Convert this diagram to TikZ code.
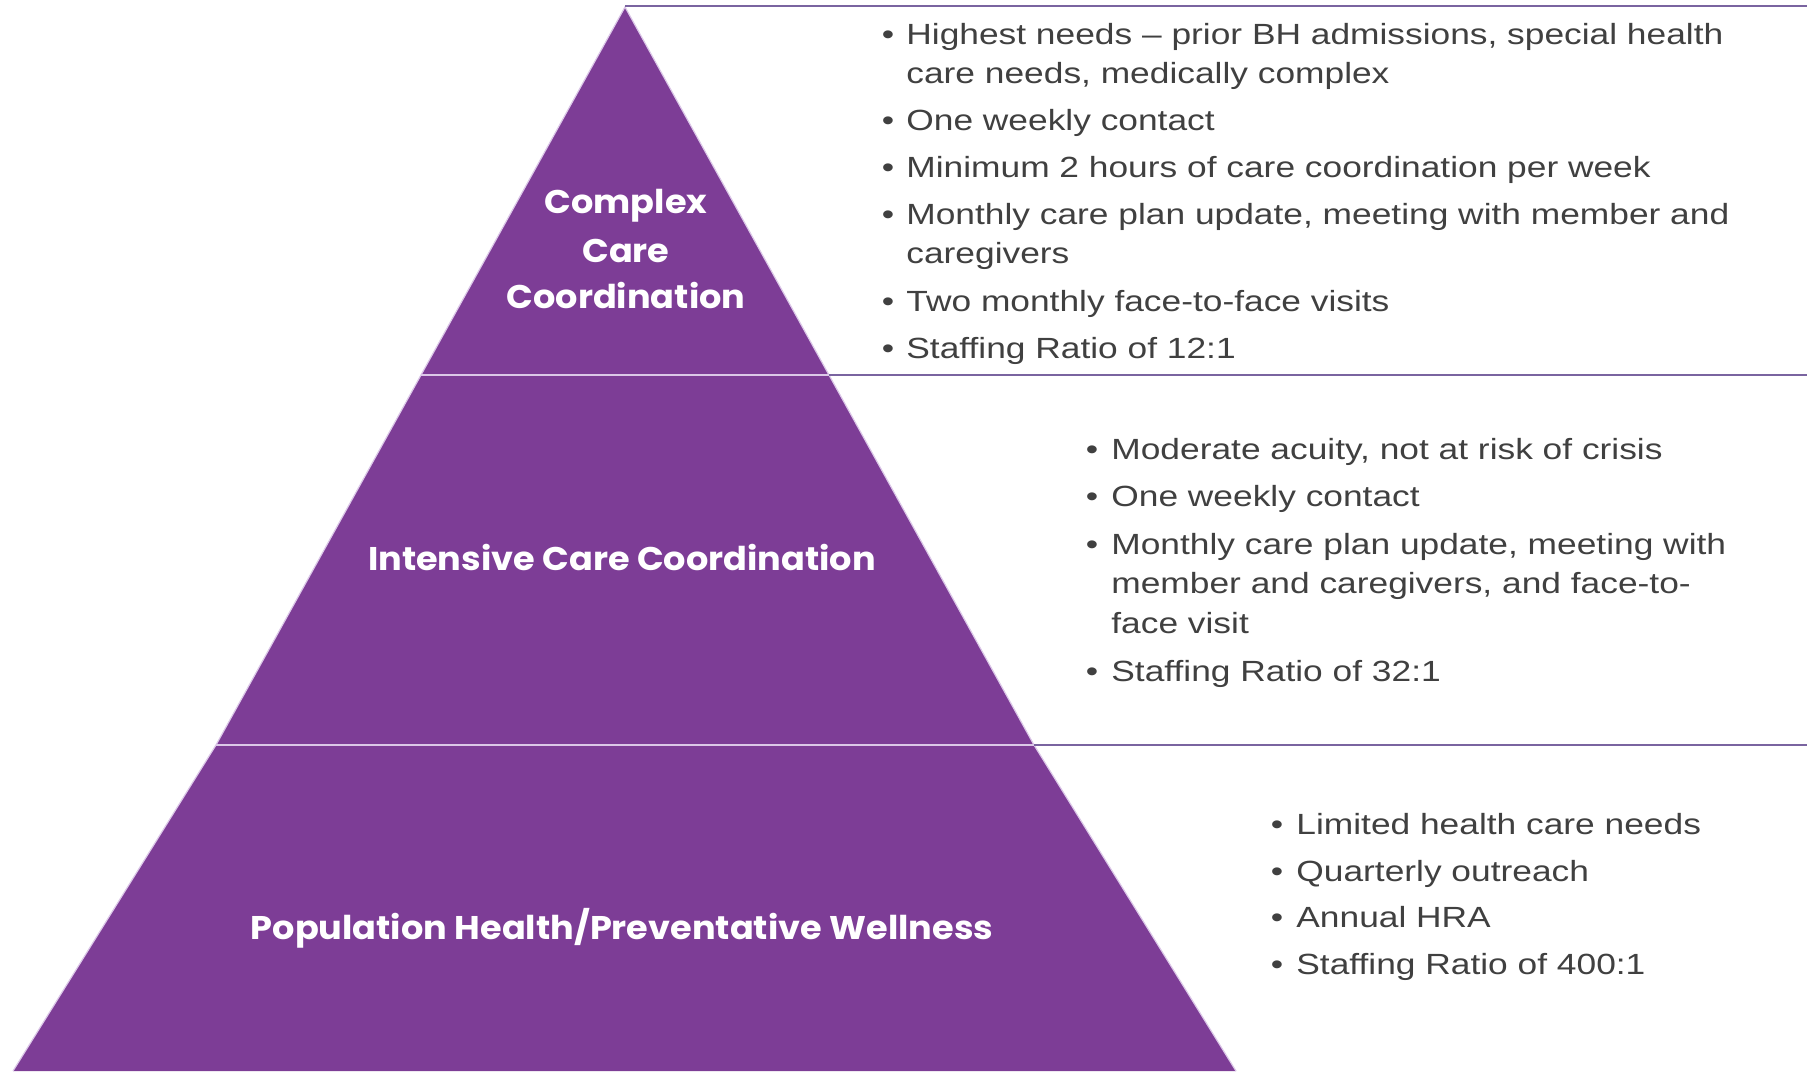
\documentclass[tikz,border=0pt]{standalone}
\usepackage{fontspec}
\setmainfont{Liberation Sans}[FakeStretch=1.21]
\newfontfamily\titlefont{Poppins}[FakeStretch=1.07]
\usetikzlibrary{calc}
\definecolor{pyr}{RGB}{125,61,150}
\definecolor{divl}{RGB}{220,200,232}
\definecolor{rline}{RGB}{122,100,160}
\definecolor{txt}{RGB}{64,64,64}
\begin{document}
\begin{tikzpicture}[x=0.5pt,y=-0.5pt,
  title/.style={text=white,font=\titlefont\bfseries\fontsize{16.4}{24.5}\selectfont,align=center,inner sep=0pt},
  item/.style={text=txt,font=\fontsize{14.6}{19.5}\selectfont,anchor=base west,inner sep=0pt,align=left},
  bul/.style={text=txt,font=\fontsize{14.6}{19.5}\selectfont,anchor=base,inner sep=0pt},
  rl/.style={draw=rline,line width=1pt},
  dl/.style={draw=divl,line width=1pt}]
\useasboundingbox (0,0) rectangle (1807,1071);
\coordinate (apex) at (625,7);
\coordinate (d1l) at (421,375);
\coordinate (d1r) at (829,375);
\coordinate (d2l) at (216,745);
\coordinate (d2r) at (1034,745);
\coordinate (bl) at (13,1071);
\coordinate (br) at (1236,1071);
\fill[pyr] (apex) -- (d1r) -- (d2r) -- (br) -- (bl) -- (d2l) -- (d1l) -- cycle;
\draw[divl,line width=0.6pt] (bl) -- (d2l) -- (d1l) -- (apex) -- (d1r) -- (d2r) -- (br);
\coordinate (e0) at (1807,6);
\coordinate (e1) at (1807,375);
\coordinate (e2) at (1807,745);
\draw[dl] (d1l) -- (d1r);
\draw[dl] (d2l) -- (d2r);
\draw[rl] ($(apex)+(0,-1)$) -- (e0);
\draw[rl] (d1r) -- (e1);
\draw[rl] (d2r) -- (e2);
% titles
\node[title,anchor=base] (t1a) at (626,213) {Complex};
\node[title,anchor=base] (t1b) at (626,262) {Care};
\node[title,anchor=base] (t1c) at (626,308) {Coordination};
\node[title,anchor=base] (t2) at (622,570) {Intensive Care Coordination};
\node[title,anchor=base] (t3) at (622,939) {Population Health/Preventative Wellness};
% group 1
\node[bul] (b11) at (888,44) {•};
\node[item] (i11) at (906,44) {Highest needs – prior BH admissions, special health};
\node[item] (i11b) at (906,83) {care needs, medically complex};
\node[bul] (b12) at (888,130) {•};
\node[item] (i12) at (906,130) {One weekly contact};
\node[bul] (b13) at (888,177) {•};
\node[item] (i13) at (906,177) {Minimum 2 hours of care coordination per week};
\node[bul] (b14) at (888,224) {•};
\node[item] (i14) at (906,224) {Monthly care plan update, meeting with member and};
\node[item] (i14b) at (906,263) {caregivers};
\node[bul] (b15) at (888,311) {•};
\node[item] (i15) at (906,311) {Two monthly face-to-face visits};
\node[bul] (b16) at (888,358) {•};
\node[item] (i16) at (906,358) {Staffing Ratio of 12:1};
% group 2
\node[bul] (b21) at (1092,459) {•};
\node[item] (i21) at (1111,459) {Moderate acuity, not at risk of crisis};
\node[bul] (b22) at (1092,506) {•};
\node[item] (i22) at (1111,506) {One weekly contact};
\node[bul] (b23) at (1092,554) {•};
\node[item] (i23) at (1111,554) {Monthly care plan update, meeting with};
\node[item] (i23b) at (1111,593) {member and caregivers, and face-to-};
\node[item] (i23c) at (1111,633) {face visit};
\node[bul] (b24) at (1092,681) {•};
\node[item] (i24) at (1111,681) {Staffing Ratio of 32:1};
% group 3
\node[bul] (b31) at (1277,834) {•};
\node[item] (i31) at (1296,834) {Limited health care needs};
\node[bul] (b32) at (1277,881) {•};
\node[item] (i32) at (1296,881) {Quarterly outreach};
\node[bul] (b33) at (1277,927) {•};
\node[item] (i33) at (1296,927) {Annual HRA};
\node[bul] (b34) at (1277,974) {•};
\node[item] (i34) at (1296,974) {Staffing Ratio of 400:1};
\end{tikzpicture}
\end{document}
